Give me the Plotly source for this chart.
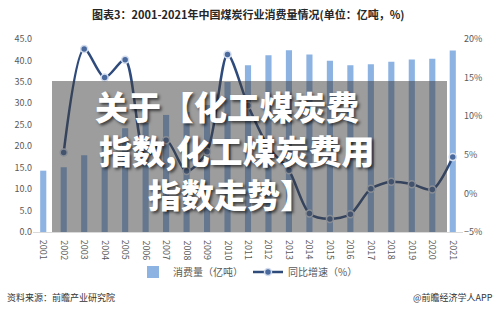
import plotly.graph_objects as go

years = [str(y) for y in range(2001, 2022)]
consumption = [14.3, 15.1, 17.9, 20.6, 24.2, 25.4, 27.3, 28.0, 29.6, 35.0, 38.9,
               41.2, 42.4, 41.4, 39.9, 38.9, 39.1, 39.7, 40.2, 40.4, 42.3]
growth = [None, 5.3, 18.7, 15.0, 17.3, 4.8, 6.9, 2.9, 5.4, 18.0, 11.4,
          6.0, 3.0, -2.6, -3.3, -2.7, 0.6, 1.5, 1.2, 0.5, 4.7]

title_text = "图表3：2001-2021年中国煤炭行业消费量情况(单位：亿吨，%)"
overlay_lines = ["关于【化工煤炭费", "指数,化工煤炭费用", "指数走势】"]
source_text = "资料来源：前瞻产业研究院"
brand_text = "@前瞻经济学人APP"

font_family = "Noto Sans CJK SC, Noto Sans, sans-serif"

fig = go.Figure()
fig.add_trace(go.Bar(
    x=years, y=consumption, name="消费量（亿吨）",
    marker=dict(color="#8DB3E2", line=dict(width=0)),
))
fig.add_trace(go.Scatter(
    x=years, y=growth, name="同比增速（%）", yaxis="y2",
    mode="lines+markers",
    line=dict(color="#2F4B7C", width=2.5, shape="spline", smoothing=0.8),
    marker=dict(size=7, color="#4A6A9E", line=dict(color="#D3DDEE", width=1.5)),
    connectgaps=False,
))

L, R, T, B = 33, 37, 39, 82
W, H = 500, 314
pw = W - L - R
ph = H - T - B

def px_x(x):
    return (x - L) / pw

def px_y(y):
    return (H - B - y) / ph

annotations = [
    dict(text=title_text, x=0.5, xref="paper", y=px_y(14), yref="paper",
         showarrow=False, xanchor="center", yanchor="middle",
         font=dict(size=11, color="#262626", family=font_family, weight="bold")),
    dict(text=source_text, x=px_x(5), xref="paper", y=px_y(297), yref="paper",
         showarrow=False, xanchor="left", yanchor="middle",
         font=dict(size=9, color="#333333", family=font_family)),
    dict(text=brand_text, x=px_x(495), xref="paper", y=px_y(297), yref="paper",
         showarrow=False, xanchor="right", yanchor="middle",
         font=dict(size=9, color="#333333", family=font_family)),
]
# rotated category labels (top-to-bottom), placed on the category axis by index
for i, yr in enumerate(years):
    annotations.append(dict(
        text=yr, x=i, xref="x", y=px_y(250), yref="paper",
        showarrow=False, xanchor="center", yanchor="middle", textangle=90,
        font=dict(size=9, color="#595959", family=font_family),
    ))
line_y = [106, 150, 194]
line_x = [227, 237, 230]
for t, yy, xx in zip(overlay_lines, line_y, line_x):
    annotations.append(dict(
        text=t, x=px_x(xx), xref="paper", y=px_y(yy), yref="paper",
        showarrow=False, xanchor="center", yanchor="middle", borderpad=0,
        font=dict(size=33, color="white", family=font_family, weight=900,
                  shadow="2px 2px 3px rgba(0,0,0,0.6)"),
    ))

fig.update_layout(
    width=W, height=H,
    margin=dict(l=L, r=R, t=T, b=B),
    paper_bgcolor="white", plot_bgcolor="white",
    font=dict(family=font_family, color="#595959"),
    bargap=0.7,
    showlegend=True,
    legend=dict(orientation="h", x=0.5, xanchor="center", y=px_y(272), yanchor="middle",
                font=dict(size=10, color="#595959"), itemwidth=30, tracegroupgap=0),
    yaxis=dict(range=[0, 45], dtick=5, tickformat=".1f", showgrid=False,
               zeroline=False, tickfont=dict(size=9, color="#595959")),
    yaxis2=dict(range=[-5, 20], dtick=5, ticksuffix="%", overlaying="y", side="right",
                showgrid=False, zeroline=False, tickfont=dict(size=9, color="#595959")),
    shapes=[dict(type="rect", xref="paper", yref="paper",
                 x0=px_x(52), x1=px_x(447), y0=0, y1=px_y(81),
                 fillcolor="rgba(60,60,60,0.5)", line=dict(width=0), layer="above")],
    annotations=annotations,
)
fig.update_xaxes(type="category", showticklabels=False, range=[-0.5, 20.5],
                 showgrid=False, showline=True, linecolor="#D9D9D9")

fig.write_html("out.html")
